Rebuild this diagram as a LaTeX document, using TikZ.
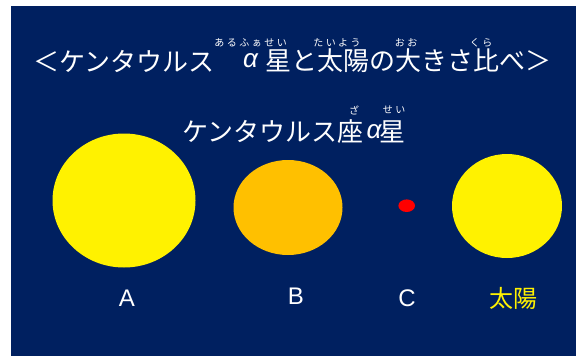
\documentclass[tikz,border=0pt]{standalone}
\usepackage{fontspec}
\usetikzlibrary{shapes.geometric}
\setmainfont{Liberation Sans}
\newfontfamily\jp{Noto Sans CJK JP}
\newfontfamily\rubyjp{Noto Sans CJK JP}[LetterSpace=25]
\newfontfamily\lsans{Liberation Sans}
\definecolor{navybg}{RGB}{0,32,96}
\definecolor{starB}{RGB}{255,192,0}
\begin{document}
\begin{tikzpicture}[x=1pt,y=-1pt,
  ttl/.style={text=white,font=\jp\fontsize{26}{26}\selectfont,inner sep=0pt},
  greek/.style={text=white,font=\lsans\itshape\fontsize{26}{26}\selectfont,inner sep=0pt},
  rubytxt/.style={text=white,font=\rubyjp\fontsize{10}{10}\selectfont,inner sep=0pt},
  lbl/.style={text=white,font=\lsans\fontsize{24}{24}\selectfont,inner sep=0pt},
  starbody/.style={ellipse,draw=none,inner sep=0pt}]
\useasboundingbox (0,0) rectangle (576,356);
\fill[white] (0,0) rectangle (576,356);
\fill[navybg] (11,6) rectangle (576,356);
% title
\node[ttl,anchor=west] (t1) at (33,61) {＜ケンタウルス};
\node[greek] (t2) at (250.5,61) {α};
\node[ttl,anchor=west] (t3) at (265,61) {星と太陽の大きさ比べ＞};
\node[rubytxt] (r1) at (250.5,42.5) {あるふぁせい};
\node[rubytxt] (r2) at (337,42.5) {たいよう};
\node[rubytxt] (r3) at (406,42.5) {おお};
\node[rubytxt] (r4) at (481,42.5) {くら};
% subtitle
\node[ttl,anchor=west] (s1) at (182,132) {ケンタウルス座};
\node[greek] (s2) at (374,132) {α};
\node[ttl,anchor=west] (s3) at (379,132) {星};
\node[rubytxt] (r5) at (354,110) {ざ};
\node[rubytxt] (r6) at (394,110) {せい};
% stars
\node[starbody,fill=yellow,minimum width=143,minimum height=134] (A) at (124,200.5) {};
\node[starbody,fill=starB,minimum width=109,minimum height=95] (B) at (288,207.5) {};
\node[starbody,fill=red,minimum width=16.6,minimum height=12.6] (C) at (406.7,205.7) {};
\node[starbody,fill=yellow,minimum width=110,minimum height=104] (S) at (507,206) {};
% labels
\node[lbl] (lA) at (127,298.5) {A};
\node[lbl] (lB) at (296,296.5) {B};
\node[lbl] (lC) at (407,298.5) {C};
\node[lbl,text=yellow,font=\jp\fontsize{24}{24}\selectfont] (lS) at (513,298) {太陽};
\end{tikzpicture}
\end{document}
